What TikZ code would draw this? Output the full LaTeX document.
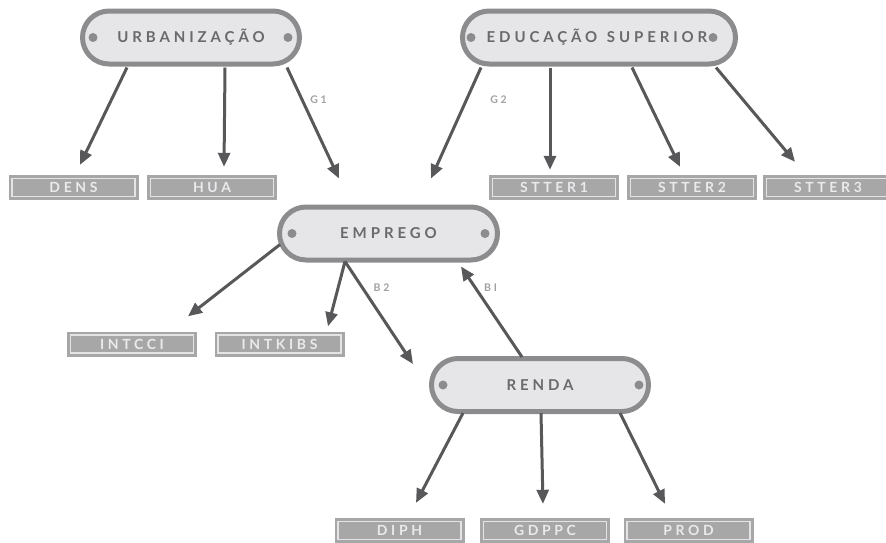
\documentclass[tikz,border=0pt]{standalone}
\usepackage{fontspec}
\setmainfont{Lato}
\newfontfamily\spaced[LetterSpace=26]{Lato}
\usetikzlibrary{arrows.meta}
\definecolor{pillline}{HTML}{8C8C8E}
\definecolor{pillfill}{HTML}{E6E6E8}
\definecolor{pilltext}{HTML}{6A6A6C}
\definecolor{dotc}{HTML}{8C8C8E}
\definecolor{boxgray}{HTML}{A7A7A8}
\definecolor{boxline}{HTML}{E4E4E6}
\definecolor{boxtext}{HTML}{EAEAEC}
\definecolor{arrowgray}{HTML}{58585A}
\definecolor{labgray}{HTML}{A0A0A2}
\tikzset{
  pill/.style={draw=pillline, line width=5pt, fill=pillfill, rounded corners=26.5pt,
    minimum height=53pt, inner sep=0pt, text=pilltext,
    font=\spaced\bfseries\fontsize{15}{15}\selectfont},
  leafbox/.style={fill=boxgray, minimum width=130pt, minimum height=25pt, inner sep=0pt,
    text=boxtext, font=\spaced\bfseries\fontsize{14}{14}\selectfont,
    path picture={\draw[boxline, line width=1.6pt]
      ([shift={(3.6pt,3.6pt)}]path picture bounding box.south west) rectangle
      ([shift={(-3.6pt,-3.6pt)}]path picture bounding box.north east);}},
  arr/.style={draw=arrowgray, line width=3pt, -{Triangle[length=14pt,width=12pt]}},
  glabel/.style={text=labgray, inner sep=0pt, font=\spaced\bfseries\fontsize{10.5}{11}\selectfont},
  pdot/.style={fill=dotc}
}
\begin{document}
\begin{tikzpicture}[x=1pt,y=-1pt]
\useasboundingbox (0,0) rectangle (886,542);
% pills
\node[pill, minimum width=217pt] (urb) at (191,37.5) {URBANIZAÇÃO};
\node[pill, minimum width=273pt] (edu) at (599,37.5) {\hspace{-4pt}EDUCAÇÃO\hspace{2pt} SUPERIOR};
\node[pill, minimum width=218pt] (emp) at (388.5,233.5) {EMPREGO};
\node[pill, minimum width=217pt] (renda) at (540,385) {RENDA};
% dots
\fill[pdot] ([xshift=13pt]urb.west) circle (4.5pt);
\fill[pdot] ([xshift=-14pt]urb.east) circle (4.5pt);
\fill[pdot] ([xshift=11pt]edu.west) circle (4.5pt);
\fill[pdot] ([xshift=-25pt]edu.east) circle (4.5pt);
\fill[pdot] ([xshift=15pt]emp.west) circle (4.5pt);
\fill[pdot] ([xshift=-15pt]emp.east) circle (4.5pt);
\fill[pdot] ([xshift=14pt]renda.west) circle (4.5pt);
\fill[pdot] ([xshift=-12pt]renda.east) circle (4.5pt);
% leaf boxes
\node[leafbox] (dens) at (73.5,187.5) {DENS};
\node[leafbox] (hua) at (212,187.5) {HUA};
\node[leafbox] (s1) at (554,187.5) {STTER1};
\node[leafbox] (s2) at (692,187.5) {STTER2};
\node[leafbox] (s3) at (828,187.5) {STTER3};
\node[leafbox] (intcci) at (132,344) {INTCCI};
\node[leafbox] (intkibs) at (279.5,344) {INTKIBS};
\node[leafbox] (diph) at (399.5,530.5) {DIPH};
\node[leafbox] (gdppc) at (545,530.5) {GDPPC};
\node[leafbox] (prod) at (688.5,530.5) {PROD};
% arrows
\draw[arr] ([xshift=-64pt,yshift=-1pt]urb.south) -- ([xshift=6.5pt,yshift=10pt]dens.north);
\draw[arr] ([xshift=34pt,yshift=-1pt]urb.south) -- ([xshift=12pt,yshift=8pt]hua.north);
\draw[arr] ([xshift=96pt,yshift=-1pt]urb.south) -- ([xshift=-49.5pt,yshift=26pt]emp.north);
\draw[arr] ([xshift=-118pt,yshift=-1pt]edu.south) -- ([xshift=42.5pt,yshift=26pt]emp.north);
\draw[arr] ([xshift=-49pt,yshift=-1pt]edu.south) -- ([xshift=-4pt,yshift=5pt]s1.north);
\draw[arr] ([xshift=33pt,yshift=-1pt]edu.south) -- ([xshift=-12pt,yshift=8pt]s2.north);
\draw[arr] ([xshift=117pt,yshift=-1pt]edu.south) -- ([xshift=-33pt,yshift=13pt]s3.north);
\draw[arr] ([xshift=3pt,yshift=-11pt]emp.west) -- ([xshift=56pt,yshift=15pt]intcci.north);
\draw[arr] ([xshift=-43.5pt,yshift=1pt]emp.south) -- ([xshift=48.5pt,yshift=5pt]intkibs.north);
\draw[arr] ([xshift=-43.5pt,yshift=1pt]emp.south) -- ([xshift=-16pt,yshift=21pt]renda.west);
\draw[arr] ([xshift=-18pt,yshift=-1pt]renda.north) -- ([xshift=72.5pt,yshift=-4pt]emp.south);
\draw[arr] ([xshift=-77pt,yshift=1pt]renda.south) -- ([xshift=16.5pt,yshift=15pt]diph.north);
\draw[arr] ([xshift=1pt,yshift=1pt]renda.south) -- ([xshift=-2pt,yshift=14pt]gdppc.north);
\draw[arr] ([xshift=80pt,yshift=1pt]renda.south) -- ([xshift=-23.5pt,yshift=14pt]prod.north);
% labels
\node[glabel] (g1) at (318.5,100) {G1};
\node[glabel] (g2) at (498.5,100) {G2};
\node[glabel] (b2) at (381.5,288) {B2};
\node[glabel] (b1) at (490.5,288) {BI};
\end{tikzpicture}
\end{document}
